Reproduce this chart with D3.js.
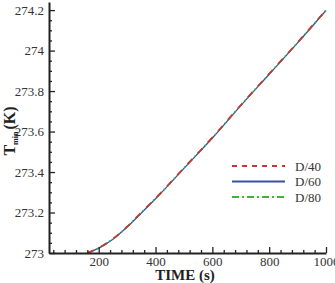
<!DOCTYPE html>
<html>
<head>
<meta charset="utf-8">
<script src="https://cdn.jsdelivr.net/npm/d3@7"></script>
<style>
  body { margin: 0; background: #fff; }
  svg { display: block; font-family: "Liberation Serif", "DejaVu Serif", serif; }
</style>
</head>
<body>
<svg id="chart" width="335" height="283"></svg>
<script>
// data
const time = [160, 200, 250, 300, 350, 400, 500, 600, 700, 800, 900, 1000];
const d40 = [273.0, 273.025, 273.07, 273.13, 273.2, 273.27, 273.42, 273.57, 273.73, 273.885, 274.04, 274.2];
const d60 = [273.0, 273.024, 273.068, 273.128, 273.198, 273.268, 273.418, 273.568, 273.728, 273.883, 274.038, 274.198];
const d80 = [273.0, 273.025, 273.07, 273.13, 273.2, 273.27, 273.42, 273.57, 273.73, 273.885, 274.04, 274.2];
const xTicks = [200, 400, 600, 800, 1000];
const yTicks = [273, 273.2, 273.4, 273.6, 273.8, 274, 274.2];
const seriesNames = ["D/40", "D/60", "D/80"];

const svg = d3.select("#chart");
const margin = {top: 2, left: 49, right: 9, bottom: 30};
const W = 335, H = 283;

const x = d3.scaleLinear().domain([25, 1000]).range([margin.left, W - margin.right]);
const y = d3.scaleLinear().domain([273, 274.24]).range([H - margin.bottom, margin.top]);

const series = [
  {name: seriesNames[1], vals: d60, color: "#3a4fa0", dash: null, width: 1.3},
  {name: seriesNames[2], vals: d80, color: "#3cb43c", dash: "7,3,1.5,3.5", width: 1.7},
  {name: seriesNames[0], vals: d40, color: "#c8343a", dash: "7,8", width: 1.7}
];

const line = d3.line().x((d, i) => x(time[i])).y(d => y(d)).curve(d3.curveMonotoneX);

svg.append("g").selectAll("path")
  .data(series)
  .join("path")
  .attr("fill", "none")
  .attr("stroke", d => d.color)
  .attr("stroke-width", d => d.width)
  .attr("stroke-dasharray", d => d.dash)
  .attr("d", d => line(d.vals));

// axes with inward ticks
const xMinor = d3.range(40, 1000, 40).filter(v => v % 200 !== 0 && v >= 25);
const yMinor = d3.range(273.05, 274.24, 0.05).filter(v => Math.abs(v * 5 - Math.round(v * 5)) > 0.01);

const xaxis = svg.append("g").attr("transform", `translate(0,${y(273)})`);
xaxis.call(d3.axisBottom(x).tickValues(xTicks).tickSize(-6).tickSizeOuter(0).tickPadding(4).tickFormat(d3.format("d")));
xaxis.append("g").call(d3.axisBottom(x).tickValues(xMinor).tickSize(-3).tickSizeOuter(0).tickFormat(""))
  .select(".domain").remove();

const yaxis = svg.append("g").attr("transform", `translate(${x(25)},0)`);
yaxis.call(d3.axisLeft(y).tickValues(yTicks).tickSize(-6).tickSizeOuter(0).tickPadding(5).tickFormat(d => String(+d.toFixed(1))));
yaxis.append("g").call(d3.axisLeft(y).tickValues(yMinor).tickSize(-3).tickSizeOuter(0).tickFormat(""))
  .select(".domain").remove();

svg.selectAll(".domain").attr("stroke", "#222").attr("stroke-width", 2);
svg.selectAll(".tick line").attr("stroke", "#222").attr("stroke-width", 1.3);
svg.selectAll(".tick text").attr("font-family", "Liberation Serif, serif").attr("font-size", 13).attr("fill", "#333");

// axis titles
svg.append("text")
  .attr("x", 185).attr("y", 280)
  .attr("text-anchor", "middle")
  .attr("font-size", 15).attr("font-weight", "bold").attr("fill", "#222")
  .text("TIME (s)");

const yt = svg.append("text")
  .attr("transform", "translate(15,131) rotate(-90)")
  .attr("text-anchor", "middle")
  .attr("font-size", 16).attr("font-weight", "bold").attr("fill", "#222");
yt.append("tspan").text("T");
yt.append("tspan").attr("font-size", 8).attr("dy", 3).text("min");
yt.append("tspan").attr("dy", -3).attr("dx", 2).text("(K)");

// legend
const legend = svg.append("g");
const legendOrder = [series[2], series[0], series[1]];
legendOrder.forEach((s, i) => {
  const ly = 166 + i * 15.5;
  legend.append("line")
    .attr("x1", 232).attr("x2", 285).attr("y1", ly).attr("y2", ly)
    .attr("stroke", s.color).attr("stroke-width", 1.8)
    .attr("stroke-dasharray", s.name === "D/40" ? "5,5" : (s.name === "D/80" ? "7,3,2,3" : null));
  legend.append("text")
    .attr("x", 295).attr("y", ly + 4.5)
    .attr("font-size", 13).attr("fill", "#333")
    .text(s.name);
});
</script>
</body>
</html>
